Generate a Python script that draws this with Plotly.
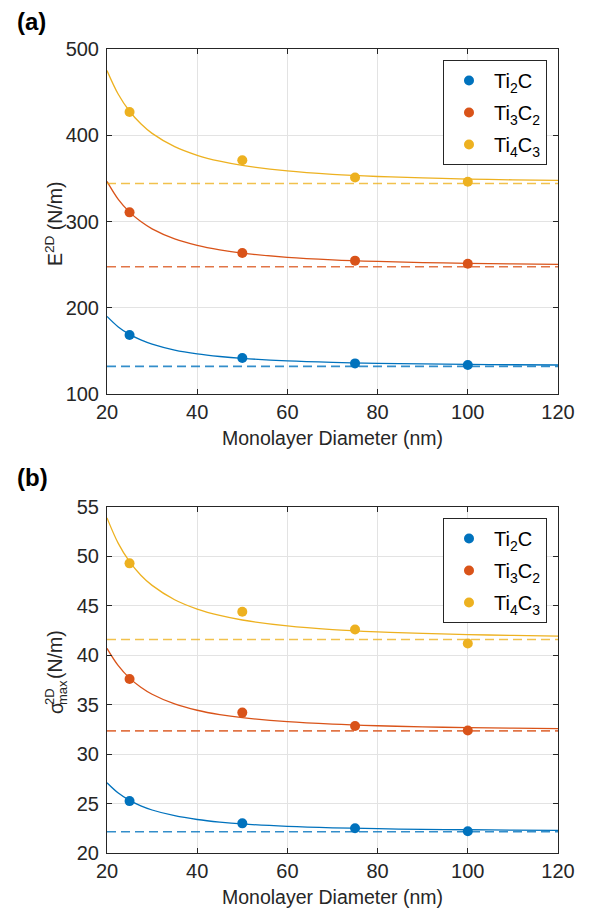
import plotly.graph_objects as go

W, H = 601, 917

# ---------------- data ----------------
names = ["Ti<sub>2</sub>C", "Ti<sub>3</sub>C<sub>2</sub>", "Ti<sub>4</sub>C<sub>3</sub>"]
colors = ["#0072BD", "#D95319", "#EDB120"]
dash_colors = ["rgba(0,114,189,0.8)", "rgba(217,83,25,0.8)", "rgba(237,177,32,0.8)"]

diam = [25, 50, 75, 100]

# (a) E2D (N/m)
E_ti2c = [168.4, 141.7, 135.5, 133.6]
E_ti3c2 = [310.6, 263.5, 254.6, 251.0]
E_ti4c3 = [427.0, 371.0, 351.0, 346.0]
E_inf = [132.0, 247.5, 344.0]

# (b) sigma_max (N/m)
S_ti2c = [25.25, 23.0, 22.5, 22.2]
S_ti3c2 = [37.6, 34.2, 32.85, 32.4]
S_ti4c3 = [49.3, 44.4, 42.6, 41.2]
S_inf = [22.15, 32.35, 41.6]

# fitted curves
curve_x = [20, 22.5, 25, 27.5, 30, 35, 40, 45, 50, 60, 70, 80, 90, 100, 110, 120]
Ec_ti2c = [190, 177.8, 169.1, 162.7, 157.8, 150.9, 146.5, 143.5, 141.3, 138.4, 136.7, 135.6, 134.9, 134.3, 133.9, 133.6]
Ec_ti3c2 = [346.5, 325.7, 310.9, 299.9, 291.5, 279.8, 272.3, 267.1, 263.3, 258.5, 255.6, 253.7, 252.4, 251.5, 250.8, 250.3]
Ec_ti4c3 = [475, 447.5, 427.8, 413.3, 402.2, 386.8, 376.8, 369.9, 365, 358.6, 354.7, 352.2, 350.5, 349.2, 348.3, 347.6]
Sc_ti2c = [27.1, 26.06, 25.32, 24.77, 24.35, 23.77, 23.39, 23.13, 22.94, 22.7, 22.55, 22.46, 22.39, 22.35, 22.31, 22.29]
Sc_ti3c2 = [40.7, 38.95, 37.69, 36.77, 36.06, 35.08, 34.44, 34.0, 33.69, 33.28, 33.03, 32.87, 32.76, 32.68, 32.63, 32.58]
Sc_ti4c3 = [53.9, 51.32, 49.47, 48.1, 47.07, 45.62, 44.68, 44.03, 43.57, 42.97, 42.6, 42.37, 42.21, 42.09, 42.01, 41.94]

x_range = [20, 120]
x_ticks = [20, 40, 60, 80, 100, 120]
E_range = [100, 500]
E_ticks = [100, 200, 300, 400, 500]
S_range = [20, 55]
S_ticks = [20, 25, 30, 35, 40, 45, 50, 55]

# ---------------- layout helpers ----------------
def px_x(p):
    return p / W

def px_y(p):
    return 1 - p / H

FONT = "Liberation Sans, Arial, Helvetica, sans-serif"
AX = "#262626"
FS = 20
fig = go.Figure()

panels = [
    dict(xa="x", ya="y", leg="legend",
         pts=[E_ti2c, E_ti3c2, E_ti4c3], inf=E_inf, cur=[Ec_ti2c, Ec_ti3c2, Ec_ti4c3]),
    dict(xa="x2", ya="y2", leg="legend2",
         pts=[S_ti2c, S_ti3c2, S_ti4c3], inf=S_inf, cur=[Sc_ti2c, Sc_ti3c2, Sc_ti4c3]),
]

for k, p in enumerate(panels):
    for i in range(3):
        fig.add_trace(go.Scatter(
            x=curve_x, y=p["cur"][i], mode="lines", line=dict(color=colors[i], width=1.3, shape="spline"),
            xaxis=p["xa"], yaxis=p["ya"], showlegend=False, hoverinfo="skip"))
        fig.add_trace(go.Scatter(
            x=x_range, y=[p["inf"][i]] * 2, mode="lines",
            line=dict(color=dash_colors[i], width=1.6, dash="9px,5px"),
            xaxis=p["xa"], yaxis=p["ya"], showlegend=False, hoverinfo="skip"))
    for i in range(3):
        fig.add_trace(go.Scatter(
            x=diam, y=p["pts"][i], mode="markers", name=names[i],
            marker=dict(color=colors[i], size=10), legendgroup=f"g{k}{i}",
            xaxis=p["xa"], yaxis=p["ya"], legend=p["leg"]))

axis_common = dict(
    showline=True, linecolor=AX, linewidth=1, mirror="ticks",
    ticks="inside", ticklen=5, tickcolor=AX, tickwidth=1, automargin=False,
    showgrid=True, gridcolor="#e3e3e3", gridwidth=1, zeroline=False,
    tickfont=dict(family=FONT, size=FS, color=AX),
)

xd = [px_x(107), px_x(558)]
leg_common = dict(xanchor="left", yanchor="top", bordercolor=AX, borderwidth=1, bgcolor="white",
                  traceorder="grouped", tracegroupgap=3, itemwidth=40,
                  font=dict(family=FONT, size=FS, color="black"))
fig.update_layout(
    template="none",
    width=W, height=H, margin=dict(l=0, r=0, t=0, b=0, pad=0, autoexpand=False),
    paper_bgcolor="white", plot_bgcolor="white",
    font=dict(family=FONT, size=FS, color=AX),
    xaxis=dict(domain=xd, range=x_range, tickvals=x_ticks, anchor="y", **axis_common),
    yaxis=dict(domain=[px_y(394), px_y(49)], range=E_range, tickvals=E_ticks, anchor="x",
               ticklabelstandoff=3, **axis_common),
    xaxis2=dict(domain=xd, range=x_range, tickvals=x_ticks, anchor="y2", **axis_common),
    yaxis2=dict(domain=[px_y(853), px_y(507)], range=S_range, tickvals=S_ticks, anchor="x2",
                ticklabelstandoff=3, **axis_common),
    legend=dict(x=px_x(443), y=px_y(60), **leg_common),
    legend2=dict(x=px_x(443), y=px_y(518), **leg_common),
    showlegend=True,
)

ann = []
def add_text(text, x, y, size=FS, angle=0, bold=False, color=AX):
    ann.append(dict(text=f"<b>{text}</b>" if bold else text, x=px_x(x), y=px_y(y), xref="paper", yref="paper",
                    showarrow=False, textangle=angle, xanchor="center", yanchor="middle",
                    font=dict(family=FONT, size=size, color=color)))

add_text("(a)", 31, 21, size=24, bold=True, color="black")
add_text("(b)", 32, 478, size=24, bold=True, color="black")
add_text("Monolayer Diameter (nm)", 332, 438, size=19.5)
add_text("Monolayer Diameter (nm)", 332, 897, size=19.5)
add_text("E<sup>2D</sup> (N/m)", 54, 224, size=19.5, angle=-90)
# sigma^2D_max (N/m) built from pieces
add_text("σ", 56, 708, size=19.5, angle=-90)
add_text("2D", 49, 697, size=13, angle=-90)
add_text("max", 62, 693, size=13, angle=-90)
add_text("(N/m)", 55, 655, size=19.5, angle=-90)

fig.update_layout(annotations=ann)
fig.write_html("out.html", post_script="document.body.style.margin='0';document.body.style.overflow='hidden';")
